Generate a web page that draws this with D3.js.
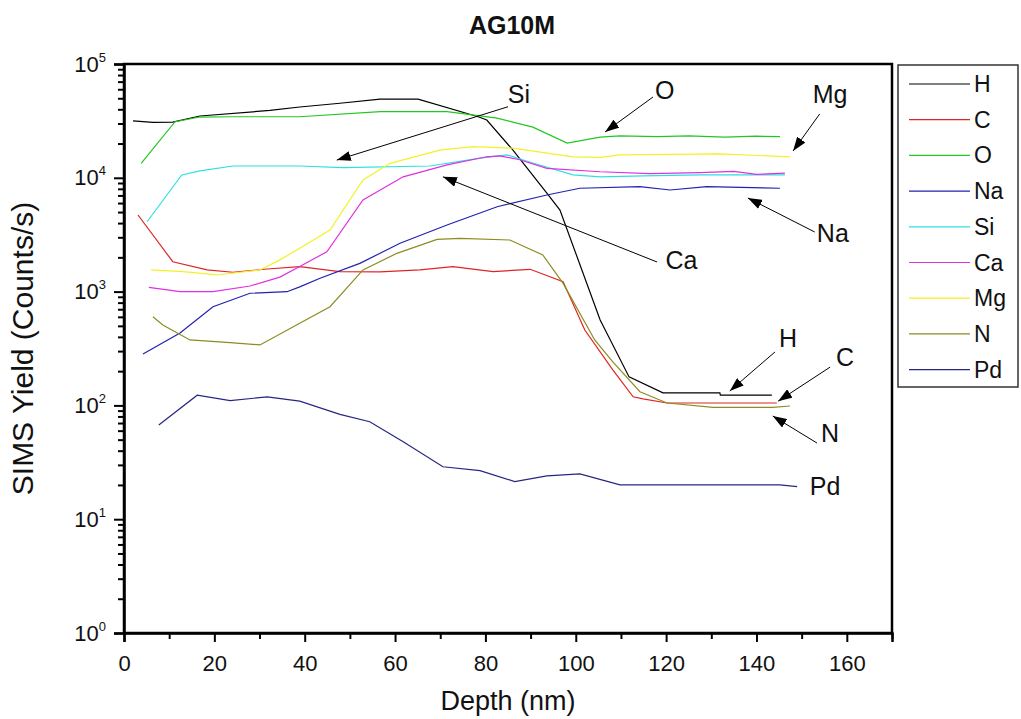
<!DOCTYPE html>
<html>
<head>
<meta charset="utf-8">
<script src="https://cdn.jsdelivr.net/npm/d3@7"></script>
<style>
  body { margin: 0; background: #fff; }
  text { font-family: "Liberation Sans", Arial, sans-serif; fill: #111; }
</style>
</head>
<body>
<script>
// depth (nm), counts/s
const H  = [[2.0,31600],[6.4,30700],[10.8,30900],[16.8,34900],[32.3,39100],[38.9,41900],[47.8,45200],[56.7,49100],[65.1,49100],[78.4,34400],[80.3,32200],[86.1,17500],[93.6,7350],[96.5,5210],[105.4,563],[111.8,178],[119.3,129],[131.9,129],[132.0,123],[143.4,123]]
const C  = [[3.1,4710],[10.8,1830],[18.4,1550],[24.1,1480],[31.7,1580],[38.9,1660],[47.8,1500],[56.7,1490],[65.5,1550],[72.8,1660],[81.7,1500],[89.9,1570],[97.2,1220],[102.0,460],[108.2,205],[112.7,119],[114.9,114],[120.2,105],[144.5,105]]
const O  = [[3.8,13400],[11.3,31100],[16.8,34200],[24.1,34400],[38.9,34400],[56.7,38100],[71.5,38100],[82.6,33500],[90.5,27900],[98.1,20200],[105.4,22800],[109.8,23400],[118.0,23000],[125.0,23400],[133.0,22800],[140.0,23200],[145.2,23000]]
const Na = [[4.2,283],[12.4,433],[19.7,736],[27.9,967],[36.1,998],[38.9,1100],[43.4,1310],[52.2,1770],[61.1,2660],[71.5,3850],[82.6,5570],[93.6,7060],[100.9,8090],[114.2,8350],[120.9,7810],[129.0,8350],[145.2,8090]]
const Si = [[5.1,4110],[12.8,10600],[16.8,11500],[24.1,12700],[38.9,12700],[48.5,12300],[67.7,12700],[78.8,14900],[84.8,15900],[90.5,13500],[99.4,10600],[105.4,10200],[115.0,10400],[127.5,10600],[146.3,10600]]
const Ca = [[5.5,1090],[12.4,998],[19.7,998],[27.9,1120],[34.5,1340],[38.9,1660],[44.9,2240],[52.9,6380],[61.8,10200],[71.5,13000],[80.3,15300],[83.2,15600],[87.6,14400],[93.6,12100],[105.4,11300],[116.4,10900],[127.5,11100],[135.0,11400],[140.0,10700],[146.3,11000]]
const Mg = [[6.0,1550],[13.1,1500],[20.6,1400],[30.1,1550],[34.5,1900],[38.9,2400],[45.6,3470],[52.9,9570],[58.9,13400],[69.9,17500],[77.2,18800],[86.1,18200],[99.4,15300],[105.4,15100],[109.8,15900],[131.9,16200],[147.4,15300]]
const N  = [[6.4,602],[8.6,509],[14.6,376],[23.5,356],[30.1,340],[38.9,527],[45.6,736],[52.9,1550],[60.4,2170],[69.3,2880],[74.4,2940],[85.4,2840],[92.7,2100],[97.2,1180],[104.2,376],[108.2,241],[114.2,132],[120.2,105],[130.4,96.2],[143.6,96.2],[147.4,98.8]]
const Pd = [[7.7,67.3],[16.2,123],[23.5,110],[31.7,119],[38.9,109],[47.8,83.5],[54.4,71.9],[61.8,48],[70.6,28.9],[78.8,26.7],[86.5,21.4],[93.6,24.0],[100.9,25.0],[109.8,20.0],[145.2,20.0],[149.0,19.3]]

const names  = ['H', 'C', 'O', 'Na', 'Si', 'Ca', 'Mg', 'N', 'Pd']
const series = [H, C, O, Na, Si, Ca, Mg, N, Pd]
const colors = ['#000000', '#e02424', '#22c822', '#2222b0', '#2ee0e0', '#e030e0', '#f2f224', '#8c8c22', '#262680']

const xTicks = [0, 20, 40, 60, 80, 100, 120, 140, 160]
const xMinor = [10, 30, 50, 70, 90, 110, 130, 150, 170]
const yTicks = [1, 10, 100, 1000, 10000, 100000]

// labels on the plot: text position, arrow start, arrow tip (data units)
const notes = [
  { t: 'Si', at: [87.4, 45400], from: [85.0, 42100], to: [47.1, 14300] },
  { t: 'O',  at: [119.7, 49300], from: [117.1, 51300], to: [106.5, 25300] },
  { t: 'Mg', at: [156.3, 45400], from: [154.0, 36400], to: [148.1, 17200] },
  { t: 'Na', at: [156.9, 2730], from: [152.9, 3340], to: [138.1, 6640] },
  { t: 'Ca', at: [123.4, 1580], from: [118.0, 1820], to: [70.6, 10200] },
  { t: 'H',  at: [147.0, 326], from: [144.1, 295], to: [134.1, 134] },
  { t: 'C',  at: [159.6, 222], from: [156.3, 217], to: [144.8, 109] },
  { t: 'N',  at: [156.3, 47.7], from: [153.4, 46.7], to: [143.6, 80.7] },
  { t: 'Pd', at: [155.2, 16.3] }
]

const m = { left: 124, top: 64, width: 768, height: 569 }

const svg = d3.select('body').append('svg')
    .attr('width', 1021)
    .attr('height', 719)

const x = d3.scaleLinear().domain([0, 170]).range([0, m.width])
const y = d3.scaleLog().domain([1, 1e5]).range([m.height, 0])

const g = svg.append('g').attr('transform', `translate(${m.left},${m.top})`)

svg.append('defs').append('marker')
    .attr('id', 'arrow')
    .attr('markerUnits', 'userSpaceOnUse')
    .attr('viewBox', '0 0 14 10')
    .attr('refX', 14).attr('refY', 5)
    .attr('markerWidth', 14).attr('markerHeight', 10)
    .attr('orient', 'auto')
  .append('path')
    .attr('d', 'M0,0 L14,5 L0,10 Z')
    .attr('fill', '#000')

// data lines
const line = d3.line().x(d => x(d[0])).y(d => y(d[1]))
g.selectAll('.series')
  .data(series)
  .enter()
  .append('path')
    .attr('class', 'series')
    .attr('d', line)
    .attr('fill', 'none')
    .attr('stroke', (d, i) => colors[i])
    .attr('stroke-width', 1.2)

// x axis
const xAxis = g.append('g').attr('transform', `translate(0,${m.height})`)
    .call(d3.axisBottom(x).tickValues(xTicks).tickSize(9).tickPadding(13))
g.append('g').attr('transform', `translate(0,${m.height})`)
    .call(d3.axisBottom(x).tickValues(xMinor).tickSize(6).tickFormat(''))
    .select('.domain').remove()

// y axis, labels as 10 with a raised exponent
const yAxis = g.append('g')
    .call(d3.axisLeft(y).tickValues(yTicks).tickSize(10).tickPadding(8).tickFormat(''))
yAxis.selectAll('.tick text').each(function(d) {
    const t = d3.select(this)
    t.append('tspan').text('10')
    t.append('tspan').attr('dy', -10).attr('font-size', 13).text(Math.round(Math.log10(d)))
})

// minor ticks at 2..9 in each decade
const yMinor = []
for (let k = 0; k < 5; k++) for (let j = 2; j < 10; j++) yMinor.push(j * Math.pow(10, k))
g.append('g')
    .call(d3.axisLeft(y).tickValues(yMinor).tickSize(6).tickFormat(''))
    .select('.domain').remove()

g.selectAll('.domain').attr('stroke-width', 2.5)
g.selectAll('.tick line').attr('stroke-width', 2).attr('stroke', '#000')
g.selectAll('.tick text').attr('font-size', 22).attr('fill', '#111')
    .attr('font-family', '"Liberation Sans", Arial, sans-serif')

// frame top and right
g.append('rect')
    .attr('width', m.width).attr('height', m.height)
    .attr('fill', 'none').attr('stroke', '#000').attr('stroke-width', 2.5)

// annotations
g.selectAll('.note')
  .data(notes.filter(d => d.from))
  .enter()
  .append('line')
    .attr('x1', d => x(d.from[0])).attr('y1', d => y(d.from[1]))
    .attr('x2', d => x(d.to[0])).attr('y2', d => y(d.to[1]))
    .attr('stroke', '#000').attr('stroke-width', 1)
    .attr('marker-end', 'url(#arrow)')
g.selectAll('.note-text')
  .data(notes)
  .enter()
  .append('text')
    .attr('x', d => x(d.at[0])).attr('y', d => y(d.at[1]))
    .attr('text-anchor', 'middle')
    .attr('font-size', 25)
    .text(d => d.t)

// titles
svg.append('text')
    .attr('x', 512).attr('y', 34)
    .attr('text-anchor', 'middle')
    .attr('font-size', 25).attr('font-weight', 'bold')
    .text('AG10M')
svg.append('text')
    .attr('x', m.left + m.width / 2).attr('y', 710)
    .attr('text-anchor', 'middle')
    .attr('font-size', 27)
    .text('Depth (nm)')
svg.append('text')
    .attr('transform', `translate(33,${m.top + m.height / 2}) rotate(-90)`)
    .attr('text-anchor', 'middle')
    .attr('font-size', 30)
    .text('SIMS Yield (Counts/s)')

// legend
const leg = svg.append('g')
leg.append('rect')
    .attr('x', 898).attr('y', 65).attr('width', 120).attr('height', 322)
    .attr('fill', '#fff').attr('stroke', '#333').attr('stroke-width', 1.5)
const ly = d3.scalePoint().domain(names).range([84, 369.6])
const item = leg.selectAll('.item')
  .data(names)
  .enter()
  .append('g')
    .attr('transform', d => `translate(0,${ly(d)})`)
item.append('line')
    .attr('x1', 909).attr('x2', 970)
    .attr('stroke', (d, i) => colors[i]).attr('stroke-width', 1.2)
item.append('text')
    .attr('x', 974).attr('y', 8)
    .attr('font-size', 23)
    .text(d => d)
</script>
</body>
</html>
